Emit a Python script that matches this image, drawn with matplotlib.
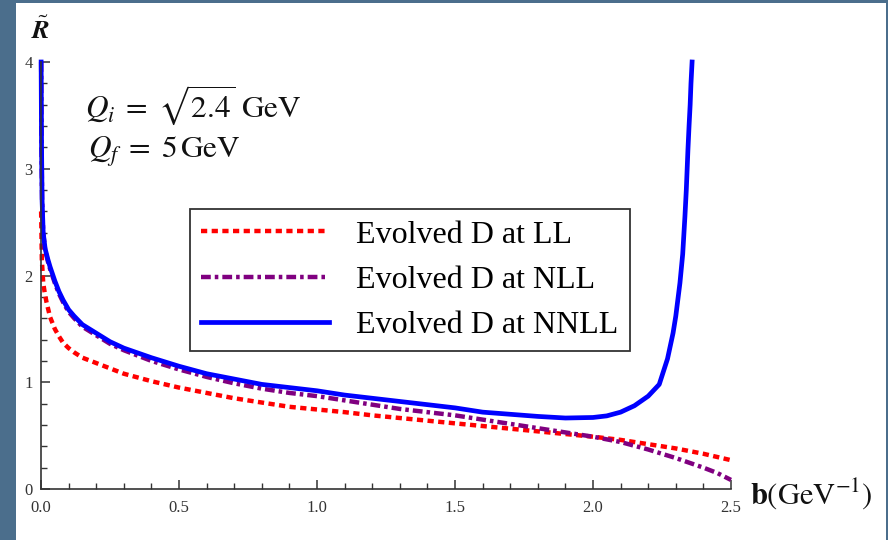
import matplotlib.pyplot as plt
import matplotlib.patches as mpatches
from matplotlib.ticker import MultipleLocator, FormatStrFormatter

plt.rcParams['mathtext.fontset'] = 'stix'
plt.rcParams['font.family'] = ['Liberation Serif', 'DejaVu Serif']

# NNLL (blue, solid)
b_nnll = [0.0005, 0.002, 0.004, 0.008, 0.015, 0.025, 0.033, 0.05, 0.065, 0.08, 0.1, 0.12, 0.15,
          0.2, 0.25, 0.3, 0.4, 0.5, 0.6, 0.7, 0.8, 0.9, 1.0, 1.1, 1.2, 1.3, 1.4, 1.5, 1.6,
          1.7, 1.8, 1.9, 2.0, 2.05, 2.1, 2.15, 2.2, 2.24, 2.27, 2.29, 2.30, 2.315, 2.325,
          2.333, 2.338, 2.344, 2.348, 2.352, 2.355, 2.359]
r_nnll = [4.0, 3.2, 2.7, 2.4, 2.25, 2.15, 2.08, 1.95, 1.85, 1.77, 1.68, 1.62, 1.54,
          1.46, 1.38, 1.32, 1.23, 1.15, 1.08, 1.03, 0.98, 0.95, 0.92, 0.88, 0.85, 0.82,
          0.79, 0.76, 0.72, 0.70, 0.68, 0.665, 0.67, 0.685, 0.72, 0.78, 0.87, 0.98, 1.22,
          1.46, 1.62, 1.93, 2.2, 2.55, 2.8, 3.18, 3.4, 3.6, 3.8, 4.0]

# NLL (purple, dot-dashed)
b_nll = [0.0005, 0.002, 0.004, 0.008, 0.015, 0.025, 0.033, 0.05, 0.065, 0.08, 0.1, 0.12, 0.15,
         0.2, 0.25, 0.3, 0.4, 0.5, 0.6, 0.7, 0.8, 0.9, 1.0, 1.1, 1.2, 1.3, 1.4, 1.5, 1.6,
         1.7, 1.8, 1.9, 2.0, 2.1, 2.2, 2.3, 2.4, 2.45, 2.5]
r_nll = [4.0, 3.2, 2.7, 2.4, 2.24, 2.13, 2.06, 1.93, 1.83, 1.75, 1.66, 1.60, 1.52,
         1.44, 1.36, 1.30, 1.20, 1.12, 1.05, 0.99, 0.94, 0.90, 0.87, 0.83, 0.79, 0.75,
         0.72, 0.69, 0.65, 0.61, 0.57, 0.53, 0.49, 0.44, 0.37, 0.29, 0.20, 0.15, 0.085]

# LL (red, dotted)
b_ll = [0.0005, 0.003, 0.008, 0.014, 0.02, 0.033, 0.05, 0.065, 0.08, 0.1, 0.12, 0.15, 0.2,
        0.25, 0.3, 0.4, 0.5, 0.6, 0.7, 0.8, 0.9, 1.0, 1.1, 1.2, 1.3, 1.4, 1.5, 1.6, 1.7,
        1.8, 1.9, 2.0, 2.1, 2.2, 2.3, 2.4, 2.5]
r_ll = [2.6, 2.15, 1.93, 1.83, 1.75, 1.61, 1.50, 1.43, 1.37, 1.32, 1.28, 1.23, 1.18,
        1.13, 1.08, 1.01, 0.95, 0.90, 0.85, 0.81, 0.77, 0.745, 0.72, 0.69, 0.665, 0.64,
        0.615, 0.59, 0.565, 0.54, 0.515, 0.49, 0.46, 0.42, 0.38, 0.33, 0.27]

labels = ['Evolved D at LL', 'Evolved D at NLL', 'Evolved D at NNLL']

W, H = 888, 540
fig = plt.figure(figsize=(W / 100, H / 100), dpi=100)
fig.patch.set_facecolor('#4b6e8c')
fig.patches.append(mpatches.Rectangle((16 / W, 0), 870 / W, 537 / H, transform=fig.transFigure,
                                      facecolor='white', edgecolor='none', zorder=-5))

ax = fig.add_axes([41 / W, (H - 489) / H, 690 / W, 427 / H])
ax.set_facecolor('none')

ax.plot(b_ll, r_ll, color='#ff0000', lw=3.2, ls=(0, (1.4, 1.0)), label=labels[0], clip_on=False)
ax.plot(b_nll, r_nll, color='#800080', lw=3.2, ls=(0, (2.2, 0.9, 0.8, 0.9)), label=labels[1], clip_on=False)
ax.plot(b_nnll, r_nnll, color='#0000ff', lw=3.4, label=labels[2], clip_on=False)

ax.set_xlim(0, 2.5)
ax.set_ylim(0, 4)
for s in ['top', 'right']:
    ax.spines[s].set_visible(False)
for s in ['left', 'bottom']:
    ax.spines[s].set_color('#333333')
    ax.spines[s].set_linewidth(1.2)

ax.xaxis.set_major_locator(MultipleLocator(0.5))
ax.xaxis.set_minor_locator(MultipleLocator(0.1))
ax.yaxis.set_major_locator(MultipleLocator(1))
ax.yaxis.set_minor_locator(MultipleLocator(0.2))
ax.xaxis.set_major_formatter(FormatStrFormatter('%.1f'))
ax.tick_params(which='major', direction='in', length=6.5, width=1.1, color='#333333',
               labelsize=12, labelcolor='#333333')
ax.tick_params(which='minor', direction='in', length=4, width=1.0, color='#333333')
ax.tick_params(axis='x', pad=8)
ax.tick_params(axis='y', pad=6)

leg = ax.legend(loc='upper left', bbox_to_anchor=(190 / W, 1 - 209 / H), bbox_transform=fig.transFigure,
                fontsize=23, handlelength=4.0, handletextpad=0.85, labelspacing=0.5,
                fancybox=False, framealpha=1, edgecolor='#333333', borderpad=0.35,
                borderaxespad=0)
leg.get_frame().set_linewidth(1.3)

fig.text(85 / W, 1 - 105 / H, r'$Q_i\;=\;\sqrt{2.4}\ \mathrm{GeV}$', fontsize=22.5, va='center', color='#111111')
fig.text(88 / W, 1 - 153 / H, r'$Q_f\;=\;5\,\mathrm{GeV}$', fontsize=22.5, va='center', color='#111111')
fig.text(41 / W, 1 - 30 / H, r'$\tilde{\mathbfit{R}}$', fontsize=19, ha='center', va='center', color='#111111')
fig.text(750 / W, 1 - 494 / H, r'$\mathbf{b}\left(\mathrm{GeV}^{-1}\right)$', fontsize=22,
         va='center', color='#111111')

fig.savefig('out.png', dpi=100, facecolor=fig.get_facecolor())
